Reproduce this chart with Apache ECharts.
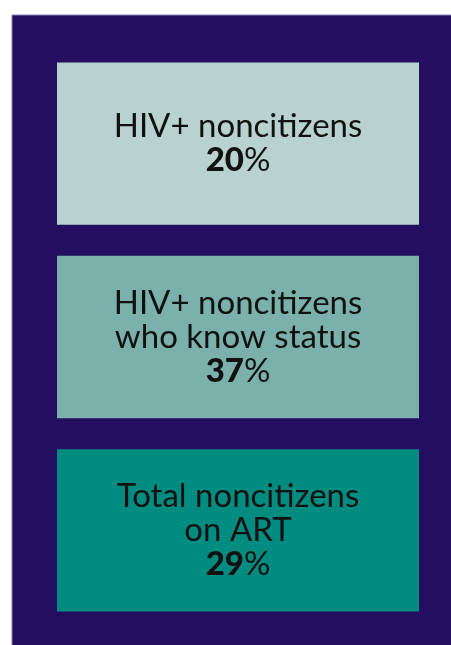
<!DOCTYPE html>
<html>
<head>
<meta charset="utf-8">
<script src="https://cdn.jsdelivr.net/npm/echarts@6/dist/echarts.min.js"></script>
<style>html,body{margin:0;padding:0;background:#fff}#c{width:451px;height:645px}</style>
</head>
<body>
<div id="c"></div>
<script>
var categories = ['HIV+ noncitizens', 'HIV+ noncitizens\nwho know status', 'Total noncitizens\non ART'];
var values = [20, 37, 29];
var boxColors = ['#b8d3cf', '#7ab2ab', '#008c80'];

var chart = echarts.init(document.getElementById('c'), null, {renderer: 'canvas'});
var data = categories.map(function (c, i) { return [i, values[i]]; });

chart.setOption({
  backgroundColor: '#ffffff',
  animation: false,
  graphic: [{
    type: 'rect', z: -10,
    shape: {x: 12, y: 15, width: 450, height: 640},
    style: {fill: '#230e5f', stroke: '#8a82b4', lineWidth: 1}
  }],
  grid: {left: 57, right: 32, top: 47, bottom: 18},
  xAxis: {type: 'value', min: 0, max: 1, show: false},
  yAxis: {type: 'category', data: categories, inverse: true, show: false},
  series: [{
    type: 'custom',
    data: data,
    renderItem: function (params, api) {
      var idx = api.value(0);
      var center = api.coord([0, idx]);
      var band = api.size([0, 1])[1];
      var h = band * 0.84;
      var cs = params.coordSys;
      var lines = categories[idx].split('\n');
      var txt = lines.map(function (l) { return '{t|' + l + '}'; }).join('\n') +
        '\n{n|' + api.value(1) + '}{p|%}';
      return {
        type: 'rect',
        shape: {x: cs.x, y: center[1] - h / 2, width: cs.width, height: h},
        style: {fill: boxColors[idx]},
        textContent: {
          style: {
            text: txt,
            align: 'center',
            verticalAlign: 'middle',
            fill: '#111111',
            rich: {
              t: {fontFamily: 'Lato', fontSize: 33, lineHeight: 34, fill: '#111111'},
              n: {fontFamily: 'Lato', fontSize: 33, fontWeight: 900, lineHeight: 34, fill: '#111111'},
              p: {fontFamily: 'Lato', fontSize: 33, lineHeight: 34, fill: '#111111'}
            }
          }
        },
        textConfig: {position: 'inside'}
      };
    }
  }]
});
</script>
</body>
</html>
